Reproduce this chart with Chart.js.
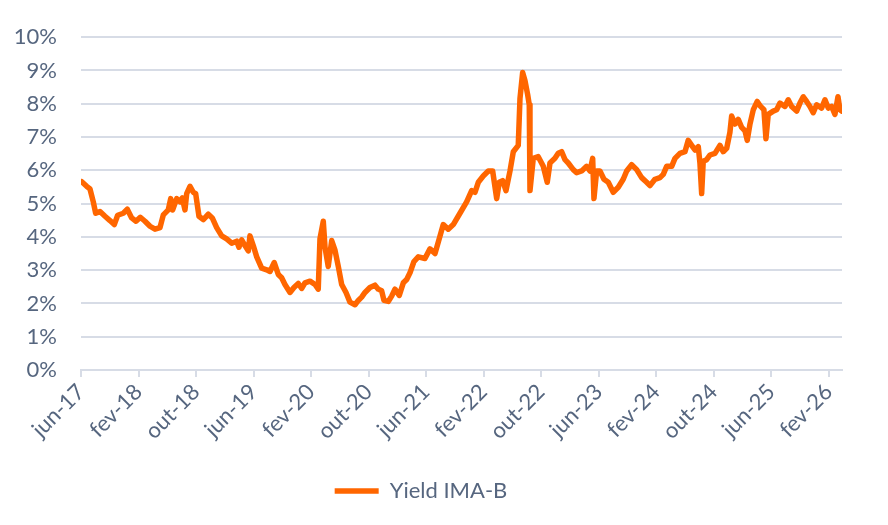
<!DOCTYPE html>
<html lang="pt">
<head>
<meta charset="utf-8">
<title>Yield IMA-B</title>
<script src="https://cdn.jsdelivr.net/npm/chart.js@4.4.1/dist/chart.umd.min.js"></script>
<style>
  html, body { margin: 0; padding: 0; background: #fff; }
  #wrap { width: 888px; height: 525px; }
</style>
</head>
<body>
<div id="wrap"><canvas id="chart-yield" width="888" height="525"></canvas></div>
<script>
// months since jun-17
const months = [
  0.10, 0.79, 1.25, 1.71, 2.04, 2.64, 3.34, 4.03, 4.63, 5.10, 5.88, 6.44, 7.05, 7.65, 8.25, 8.90,
  9.60, 10.29, 10.99, 11.45, 12.14, 12.48, 12.75, 13.31, 13.77, 14.09, 14.46, 14.70, 15.16, 15.62,
  15.95, 16.41, 17.01, 17.71, 18.26, 18.87, 19.57, 20.26, 20.96, 21.66, 21.97, 22.35, 22.81, 23.27,
  23.50, 23.96, 24.44, 25.13, 25.83, 26.29, 26.88, 27.44, 27.91, 28.37, 29.07, 29.62, 30.22, 30.70,
  31.15, 31.85, 32.55, 33.00, 33.24, 33.70, 33.94, 34.39, 34.87, 35.33, 35.79, 36.26, 36.86, 37.41,
  38.11, 38.57, 39.04, 39.50, 40.19, 40.89, 41.35, 41.82, 42.14, 42.74, 43.21, 43.67, 44.27, 44.83,
  45.30, 45.76, 46.31, 46.91, 47.84, 48.54, 49.24, 49.69, 50.39, 51.08, 51.78, 52.71, 53.64, 54.34,
  54.80, 55.26, 55.95, 56.65, 57.26, 57.82, 58.18, 58.65, 59.11, 59.67, 60.13, 60.82, 61.06, 61.43,
  61.75, 62.13, 62.35, 62.45, 62.91, 63.60, 64.30, 64.85, 65.23, 65.92, 66.38, 66.86, 67.32, 67.77,
  68.47, 68.94, 69.64, 70.33, 70.79, 71.17, 71.35, 71.72, 72.18, 72.74, 73.34, 74.03, 74.73, 75.42,
  75.90, 76.59, 77.29, 77.98, 78.68, 79.14, 79.83, 80.53, 80.99, 81.46, 82.16, 82.62, 83.31, 84.01,
  84.46, 84.94, 85.40, 85.86, 86.09, 86.33, 86.55, 87.02, 87.48, 88.18, 88.87, 89.33, 89.81, 90.26,
  90.50, 90.96, 91.42, 91.89, 92.35, 92.67, 93.05, 93.51, 94.06, 94.53, 94.99, 95.27, 95.59, 96.29,
  96.76, 97.22, 97.91, 98.37, 98.85, 99.54, 100.00, 100.46, 100.93, 101.39, 101.85, 102.32, 103.02,
  103.48, 103.94, 104.41, 104.87, 105.29, 105.56, 105.84
];

const yieldPct = [
  5.66, 5.52, 5.44, 5.05, 4.71, 4.76, 4.62, 4.49, 4.37, 4.65, 4.71, 4.83, 4.57, 4.47, 4.59, 4.47,
  4.32, 4.23, 4.28, 4.66, 4.81, 5.15, 4.81, 5.15, 5.05, 5.17, 4.81, 5.30, 5.52, 5.34,
  5.30, 4.62, 4.52, 4.68, 4.57, 4.28, 4.03, 3.94, 3.81, 3.87, 3.69, 3.91, 3.74, 3.58,
  4.03, 3.74, 3.40, 3.06, 3.01, 2.96, 3.23, 2.87, 2.77, 2.57, 2.33, 2.48, 2.60, 2.45,
  2.62, 2.67, 2.57, 2.43, 3.94, 4.47, 3.69, 3.11, 3.89, 3.60, 3.11, 2.57, 2.33, 2.04,
  1.96, 2.09, 2.19, 2.33, 2.48, 2.55, 2.43, 2.38, 2.09, 2.06, 2.22, 2.43, 2.24, 2.62,
  2.72, 2.92, 3.26, 3.40, 3.35, 3.64, 3.50, 3.84, 4.37, 4.23, 4.37, 4.71, 5.05, 5.39,
  5.34, 5.64, 5.83, 5.98, 5.98, 5.15, 5.64, 5.69, 5.39, 5.98, 6.56, 6.75, 8.16, 8.94,
  8.70, 8.27, 7.97, 5.39, 6.36, 6.41, 6.12, 5.64, 6.22, 6.36, 6.51, 6.56, 6.32, 6.22,
  6.02, 5.93, 5.98, 6.12, 5.98, 6.36, 5.15, 5.98, 5.98, 5.73, 5.64, 5.34, 5.49, 5.73,
  5.98, 6.17, 6.02, 5.78, 5.64, 5.54, 5.73, 5.78, 5.88, 6.12, 6.12, 6.36, 6.51, 6.56,
  6.90, 6.75, 6.61, 6.71, 6.22, 5.30, 6.27, 6.32, 6.46, 6.51, 6.75, 6.56, 6.66, 7.14,
  7.63, 7.39, 7.53, 7.29, 7.19, 6.90, 7.39, 7.82, 8.07, 7.92, 7.82, 6.95, 7.68, 7.78,
  7.82, 8.02, 7.92, 8.12, 7.92, 7.78, 8.02, 8.21, 8.07, 7.92, 7.73, 7.97, 7.87,
  8.12, 7.87, 7.92, 7.68, 8.21, 7.82, 7.78
];

const tickLabels = [
  'jun-17', 'fev-18', 'out-18', 'jun-19', 'fev-20', 'out-20', 'jun-21',
  'fev-22', 'out-22', 'jun-23', 'fev-24', 'out-24', 'jun-25', 'fev-26'
];

const TEXT = '#56667f';
const GRID = '#d7dce6';
const FONT = { family: 'Lato', size: 22 };

function buildChart() {
  const ctx = document.getElementById('chart-yield');
  const points = months.map((m, i) => ({ x: m, y: yieldPct[i] }));

  return new Chart(ctx, {
    type: 'line',
    data: {
      datasets: [{
        label: 'Yield IMA-B',
        data: points,
        borderColor: '#ff6600',
        backgroundColor: '#ff6600',
        borderWidth: 5.5,
        borderCapStyle: 'round',
        borderJoinStyle: 'round',
        pointRadius: 0,
        pointStyle: 'line',
        tension: 0,
        fill: false
      }]
    },
    options: {
      responsive: false,
      animation: false,
      layout: { padding: { top: 27, right: 46, bottom: 13, left: 0 } },
      plugins: {
        tooltip: { enabled: false },
        legend: {
          position: 'bottom',
          labels: {
            color: TEXT,
            font: FONT,
            usePointStyle: true,
            pointStyleWidth: 44,
            padding: 10
          }
        }
      },
      scales: {
        x: {
          type: 'linear',
          min: 0,
          max: 105.85,
          afterFit: s => { s.height = 100; },
          border: { display: true, color: GRID, width: 2 },
          grid: { drawOnChartArea: false, drawTicks: true, tickLength: 7, color: GRID, lineWidth: 2 },
          ticks: {
            stepSize: 8,
            includeBounds: false,
            autoSkip: false,
            maxRotation: 45,
            minRotation: 45,
            color: TEXT,
            font: FONT,
            padding: 2,
            callback: v => (v % 8 === 0 ? tickLabels[v / 8] : '')
          }
        },
        y: {
          min: 0,
          max: 10,
          afterFit: s => { s.width = 81; },
          border: { display: false },
          grid: { color: GRID, lineWidth: 2, drawTicks: false },
          ticks: {
            stepSize: 1,
            color: TEXT,
            font: FONT,
            padding: 24,
            callback: v => v + '%'
          }
        }
      }
    }
  });
}

document.addEventListener('DOMContentLoaded', buildChart);
</script>
</body>
</html>
